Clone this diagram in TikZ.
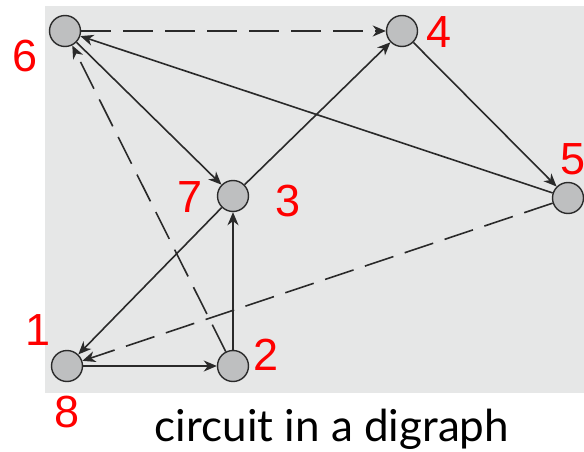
\documentclass[tikz,border=0pt]{standalone}
\usepackage{fontspec}
\setmainfont{Liberation Sans}
\newfontfamily\capfont{Lato}
\usetikzlibrary{arrows.meta}
\definecolor{bgray}{HTML}{E6E7E7}
\definecolor{vgray}{HTML}{BEBFC0}
\definecolor{egray}{HTML}{2A2A2A}
\begin{document}
\begin{tikzpicture}[x=1pt,y=-1pt,
		vertex/.style={circle,draw=egray,fill=vgray,line width=1.4,minimum size=31pt,inner sep=0pt},
		lab/.style={text=red,font=\fontsize{45}{45}\selectfont,inner sep=0pt},
		arc/.style={draw=egray,line width=1.6,-{Stealth[length=13pt,width=11pt,inset=4pt]}},
		darc/.style={arc,dash pattern=on 30pt off 12pt}]
				\useasboundingbox (0,0) rectangle (584,452);
				\fill[bgray] (45,6) rectangle (584,393);
				
				\node[vertex] (v6) at (65,31) {};
				\node[vertex] (v4) at (402,31) {};
				\node[vertex] (v5) at (568,198) {};
				\node[vertex] (v7) at (233,196) {};
				\node[vertex] (v1) at (67,366) {};
				\node[vertex] (v2) at (233,366) {};
				
				\draw[darc] (v6) -- (v4);
				\draw[arc] (v6) -- (v7);
				\draw[arc] (v5) -- (v6);
				\draw[darc] (v2) -- (v6);
				\draw[arc] (v4) -- (v5);
				\draw[arc] (v7) -- (v4);
				\draw[arc] (v7) -- (v1);
				\draw[arc] (v2) -- (v7);
				\draw[arc] (v1) -- (v2);
				\draw[darc] (v5) -- (v1);
				
				\node[lab] (l6) at (25,56) {6};
				\node[lab] (l4) at (439,32) {4};
				\node[lab] (l5) at (573,159) {5};
				\node[lab] (l7) at (190,197) {7};
				\node[lab] (l3) at (288,201) {3};
				\node[lab] (l1) at (38,330) {1};
				\node[lab] (l2) at (266,355) {2};
				\node[lab] (l8) at (67,412) {8};
				\node[font=\capfont\fontsize{44}{44}\selectfont,inner sep=0pt] (cap) at (332,429) {circuit in a digraph};
			\end{tikzpicture}
\end{document}
